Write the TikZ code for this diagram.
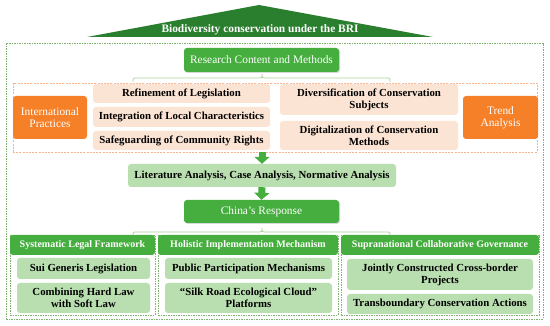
\documentclass[tikz,border=0pt]{standalone}
\usepackage{fontspec}
\setmainfont{Liberation Serif}
\usetikzlibrary{arrows.meta,shadows}
\definecolor{dgreen}{HTML}{2A7F2E}
\definecolor{mgreen}{HTML}{45AE3E}
\definecolor{lgreen}{HTML}{B9DFB0}
\definecolor{orng}{HTML}{F58027}
\definecolor{peach}{HTML}{FCE4D4}
\definecolor{obord}{HTML}{F7B48A}
\definecolor{gbord}{HTML}{7DB36E}
\definecolor{bracec}{HTML}{A9D39E}
\tikzset{
  box/.style={rectangle, rounded corners=3pt, inner sep=1pt, align=center,
    font=\fontsize{10.8}{12}\selectfont\bfseries},
  gbox/.style={box, fill=mgreen, text=white},
  hbox/.style={gbox, font=\fontsize{10}{12}\selectfont\bfseries},
  lbox/.style={box, fill=lgreen},
  pbox/.style={box, fill=peach},
  obox/.style={box, fill=orng, text=white, font=\fontsize{11.4}{12}\selectfont},
  colbox/.style={rectangle, draw=gbord, dash pattern=on 1.5pt off 1pt, line width=0.6pt},
  shad/.style={drop shadow={shadow xshift=1pt, shadow yshift=-1pt, opacity=0.3}},
  bigarrow/.style={draw=mgreen, line width=7pt, -{Triangle[width=15pt,length=7pt]}},
  bracepath/.style={draw=bracec, line width=0.8pt}
}
\begin{document}
\begin{tikzpicture}[x=1pt,y=-1pt]
\useasboundingbox[fill=white] (0,0) rectangle (550,326);
% title roof
\fill[dgreen] (87,37) -- (259,5) -- (433,37) -- cycle;
\node[font=\fontsize{11.4}{12}\selectfont\bfseries, text=white] (title) at (260,29.5) {Biodiversity conservation under the BRI};
% outer box
\node[rectangle, draw=gbord, dash pattern=on 1.5pt off 1pt, line width=0.6pt, minimum width=537pt, minimum height=276pt, inner sep=0pt] (outer) at (274.5,181) {};
% research content
\node[gbox, shad, minimum width=155pt, minimum height=24pt, font=\fontsize{11.4}{12}\selectfont] (rcm) at (261.5,60) {Research Content and Methods};
\draw[bracepath] (133,82) .. controls (133,78) .. (137,78) -- (257,78) .. controls (262,78) .. (262,74) .. controls (262,78) .. (267,78) -- (386,78) .. controls (390,78) .. (390,82);
% orange dashed box
\node[rectangle, draw=obord, dash pattern=on 2pt off 1.2pt, line width=0.8pt, minimum width=524pt, minimum height=69pt, inner sep=0pt] (ob) at (275,117.5) {};
\node[obox, minimum width=74pt, minimum height=43pt] (ip) at (50,117.5) {International\\Practices};
\node[pbox, minimum width=177pt, minimum height=19pt] (r1) at (181.5,93.5) {Refinement of Legislation};
\node[pbox, minimum width=177pt, minimum height=20pt] (r2) at (181.5,117) {Integration of Local Characteristics};
\node[pbox, minimum width=177pt, minimum height=19pt] (r3) at (181.5,140.5) {Safeguarding of Community Rights};
\node[pbox, minimum width=178pt, minimum height=31pt] (d1) at (369,99.5) {Diversification of Conservation\\Subjects};
\node[pbox, minimum width=178pt, minimum height=29pt] (d2) at (369,135.5) {Digitalization of Conservation\\Methods};
\node[obox, minimum width=75pt, minimum height=43pt] (ta) at (500.5,117.5) {Trend\\Analysis};
% literature
\node[lbox, minimum width=268pt, minimum height=23pt] (la) at (262,175.5) {Literature Analysis, Case Analysis, Normative Analysis};
\node[gbox, shad, minimum width=155pt, minimum height=23pt, font=\fontsize{11.4}{12}\selectfont] (cr) at (261.5,211.5) {China's Response};
\draw[bigarrow] (ob.south -| la.north) -- (la.north);
\draw[bigarrow] (la.south) -- (cr.north);
\draw[bracepath] (133,236) .. controls (133,232) .. (137,232) -- (257,232) .. controls (262,232) .. (262,228) .. controls (262,232) .. (267,232) -- (386,232) .. controls (390,232) .. (390,236);
% columns
\node[colbox, minimum width=145pt, minimum height=80pt] (c1) at (82.5,275) {};
\node[colbox, minimum width=180pt, minimum height=80pt] (c2) at (248,275) {};
\node[colbox, minimum width=198pt, minimum height=80pt] (c3) at (440,275) {};
\node[hbox, minimum width=145pt, minimum height=20pt] (h1) at (82.5,245) {Systematic Legal Framework};
\node[hbox, minimum width=180pt, minimum height=20pt] (h2) at (248,245) {Holistic Implementation Mechanism};
\node[hbox, minimum width=198pt, minimum height=20pt] (h3) at (440,245) {Supranational Collaborative Governance};
\node[lbox, minimum width=133pt, minimum height=21pt] (s1) at (83.5,268.5) {Sui Generis Legislation};
\node[lbox, minimum width=133pt, minimum height=30pt] (s2) at (83.5,298) {Combining Hard Law\\with Soft Law};
\node[lbox, minimum width=167pt, minimum height=21pt] (p1) at (248.5,268.5) {Public Participation Mechanisms};
\node[lbox, minimum width=167pt, minimum height=30pt] (p2) at (248.5,298) {``Silk Road Ecological Cloud''\\Platforms};
\node[lbox, minimum width=186pt, minimum height=31pt] (j1) at (440,274.5) {Jointly Constructed Cross-border\\Projects};
\node[lbox, minimum width=186pt, minimum height=20pt] (j2) at (440,304) {Transboundary Conservation Actions};
\end{tikzpicture}
\end{document}
